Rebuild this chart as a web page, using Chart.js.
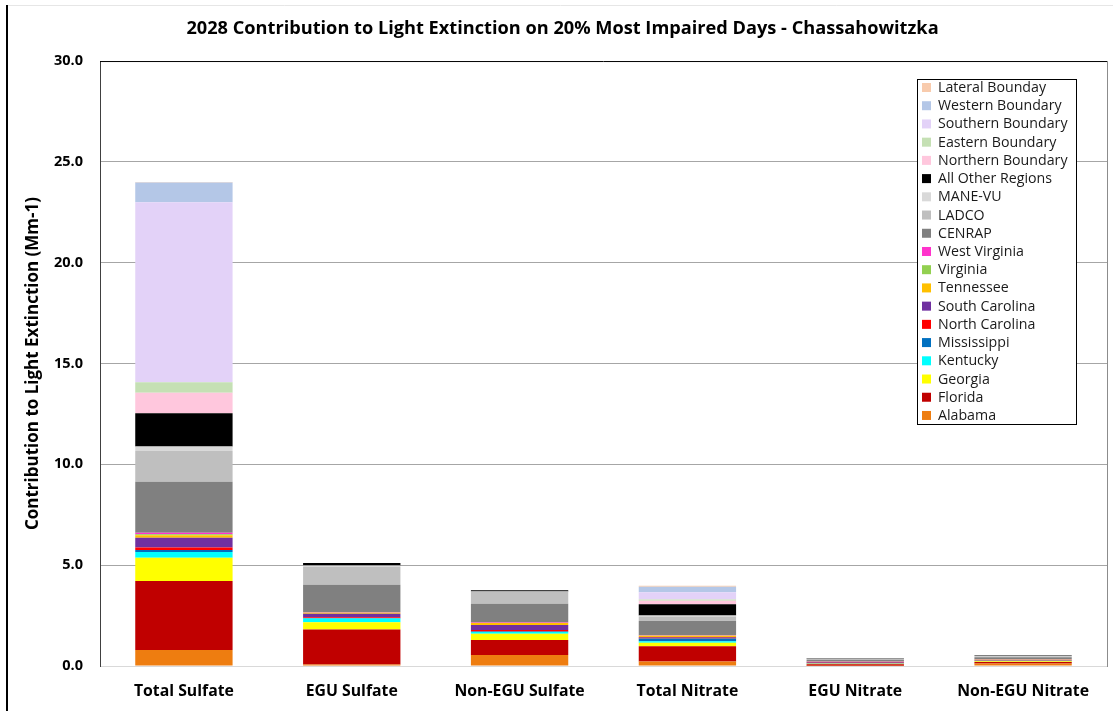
<!DOCTYPE html>
<html>
<head>
<meta charset="utf-8">
<script src="https://cdn.jsdelivr.net/npm/chart.js@4.4.1/dist/chart.umd.min.js"></script>
<style>
html,body{margin:0;padding:0;background:#fff;}
#wrap{position:relative;width:1113px;height:711px;}
</style>
</head>
<body>
<div id="wrap"><canvas id="chart"></canvas></div>
<script>
// categories and values (Mm-1)
const categories=['Total Sulfate','EGU Sulfate','Non-EGU Sulfate','Total Nitrate','EGU Nitrate','Non-EGU Nitrate'];
const yTicks=[0,5,10,15,20,25,30];

const alabama      =[0.79,0.07,0.55,0.22,0.01,0.12];
const florida      =[3.42,1.74,0.74,0.76,0.08,0.08];
const georgia      =[1.16,0.36,0.31,0.17,0.02,0.03];
const kentucky     =[0.28,0.18,0.08,0.08,0.01,0.01];
const mississippi  =[0.10,0.03,0.03,0.13,0.02,0.02];
const northCarolina=[0.13,0.04,0.07,0.04,0.02,0.01];
const southCarolina=[0.48,0.17,0.25,0.04,0.05,0.02];
const tennessee    =[0.12,0.05,0.10,0.06,0.01,0.02];
const virginia     =[0.05,0.01,0.02,0.01,0.00,0.00];
const westVirginia =[0.08,0.03,0.03,0.03,0.01,0.01];
const cenrap       =[2.53,1.35,0.91,0.69,0.08,0.12];
const ladco        =[1.52,0.88,0.58,0.23,0.04,0.04];
const maneVu       =[0.23,0.08,0.03,0.05,0.01,0.01];
const allOther     =[1.64,0.12,0.06,0.55,0.02,0.03];
const northernBnd  =[1.02,0,0,0.18,0,0];
const easternBnd   =[0.52,0,0,0.06,0,0];
const southernBnd  =[8.93,0,0,0.36,0,0];
const westernBnd   =[0.98,0,0,0.27,0,0];
const lateralBnd   =[0.02,0,0,0.05,0,0];

// stack order, bottom first
const series=[
  ['Alabama',alabama,'#EE7D10'],
  ['Florida',florida,'#C00000'],
  ['Georgia',georgia,'#FFFF00'],
  ['Kentucky',kentucky,'#00FFFF'],
  ['Mississippi',mississippi,'#0070C0'],
  ['North Carolina',northCarolina,'#FF0000'],
  ['South Carolina',southCarolina,'#7030A0'],
  ['Tennessee',tennessee,'#FFC000'],
  ['Virginia',virginia,'#92D050'],
  ['West Virginia',westVirginia,'#FF33CC'],
  ['CENRAP',cenrap,'#808080'],
  ['LADCO',ladco,'#BFBFBF'],
  ['MANE-VU',maneVu,'#D9D9D9'],
  ['All Other Regions',allOther,'#000000'],
  ['Northern Boundary',northernBnd,'#FFC7DD'],
  ['Eastern Boundary',easternBnd,'#C5E0B4'],
  ['Southern Boundary',southernBnd,'#E3D2F8'],
  ['Western Boundary',westernBnd,'#B4C7E7'],
  ['Lateral Bounday',lateralBnd,'#F8CBAD']
];

const FONT='"Open Sans", "Noto Sans", sans-serif';

// frame, plot border and floating legend
const decor={
  id:'decor',
  beforeDraw(chart){
    const c=chart.ctx;
    c.save();
    c.fillStyle='#fff';c.fillRect(0,0,chart.width,chart.height);
    c.strokeStyle='#000';c.lineWidth=2;
    c.beginPath();c.moveTo(7,5);c.lineTo(7,chart.height);c.stroke();
    c.strokeStyle='#e6e6e6';c.lineWidth=1;
    c.beginPath();c.moveTo(8,5.5);c.lineTo(chart.width,5.5);c.stroke();
    c.restore();
  },
  afterDraw(chart){
    const c=chart.ctx,a=chart.chartArea;
    c.save();
    c.lineWidth=1;
    c.strokeStyle='#000';
    c.beginPath();c.moveTo(a.left,a.top+0.5);c.lineTo(a.right,a.top+0.5);c.stroke();
    c.strokeStyle='#8c8c8c';
    c.beginPath();c.moveTo(a.right+0.5,a.top);c.lineTo(a.right+0.5,a.bottom+1);c.stroke();
    // legend
    const ds=chart.data.datasets.slice().reverse();
    const lx=917,ly=79,lw=159,lh=345,step=18.22;
    c.fillStyle='#fff';c.fillRect(lx,ly,lw,lh);
    c.strokeStyle='#000';c.strokeRect(lx+0.5,ly+0.5,lw,lh);
    c.font='14.2px '+FONT;c.textBaseline='middle';
    ds.forEach((d,i)=>{
      const y=ly+8.5+i*step;
      c.fillStyle=d.backgroundColor;c.fillRect(lx+5,y-4.5,9,9);
      c.fillStyle='#1a1a1a';c.fillText(d.label,lx+21,y+0.5);
    });
    c.restore();
  }
};

new Chart(document.getElementById('chart'),{
  type:'bar',
  data:{
    labels:categories,
    datasets:series.map(([label,data,color])=>({label,data,backgroundColor:color,borderWidth:0,categoryPercentage:1,barPercentage:0.58}))
  },
  plugins:[decor],
  options:{
    responsive:true,maintainAspectRatio:false,animation:false,
    layout:{padding:{left:18,right:6,top:10,bottom:0}},
    plugins:{
      legend:{display:false},
      tooltip:{enabled:false},
      title:{display:true,text:'2028 Contribution to Light Extinction on 20% Most Impaired Days - Chassahowitzka',
        color:'#000',font:{family:FONT,size:18.2,weight:'bold'},padding:{top:8,bottom:21.2}}
    },
    scales:{
      x:{stacked:true,
        grid:{display:false,drawTicks:false},
        border:{color:'#d9d9d9'},
        ticks:{color:'#000',padding:16,font:{family:FONT,size:15.8,weight:'bold'}},
        afterFit(s){s.height=45;}
      },
      y:{stacked:true,min:0,max:30,
        afterBuildTicks(s){s.ticks=yTicks.map(v=>({value:v}));},
        afterFit(s){s.width=82;},
        grid:{drawTicks:false,color:ctx=>ctx.tick&&(ctx.tick.value===0||ctx.tick.value===30)?'rgba(0,0,0,0)':'#a6a6a6'},
        border:{color:'#404040'},
        ticks:{color:'#000',padding:17,font:{family:FONT,size:14.5,weight:'bold'},callback:v=>v.toFixed(1)},
        title:{display:true,text:'Contribution to Light Extinction (Mm-1)',color:'#000',
          font:{family:FONT,size:17,weight:'bold'},padding:{top:5,bottom:0}}
      }
    }
  }
});
</script>
</body>
</html>
